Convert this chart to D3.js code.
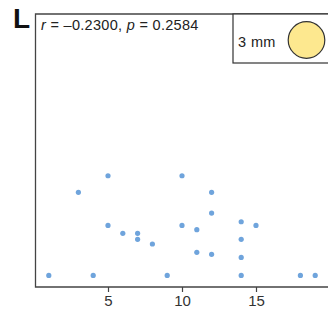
<!DOCTYPE html>
<html><head><meta charset="utf-8">
<script src="https://cdn.jsdelivr.net/npm/d3@7"></script>
<style>body{margin:0;background:#fff}svg{display:block;font-family:"Liberation Sans",Arial,sans-serif}</style>
</head><body>
<svg id="c" width="328" height="331"></svg>
<script>
const xValues = [1, 4, 9, 14, 18, 19, 3, 5, 10, 12, 12, 14, 15, 5, 10, 11, 6, 7, 7, 14, 8, 11, 12, 14];
const yValues = [0, 0, 0, 0, 0, 0, 5.0, 6.0, 6.0, 5.0, 3.75, 3.23, 3.01, 3.01, 3.01, 2.75, 2.53, 2.53, 2.17, 2.17, 1.89, 1.39, 1.27, 1.08];
const xTicks = [5, 10, 15];
const panelLabel = "L";
const legendLabel = "3 mm";

const svg = d3.select("#c");
const m = {l: 35.5, t: 14, b: 287};
const x = d3.scaleLinear().domain([0, 20]).range([34, 330]);
const y = d3.scaleLinear().domain([-0.7, 15.74]).range([m.b, m.t]);

// frame
svg.append("path").attr("d", `M340,${m.t}H${m.l}V${m.b}H340`)
  .attr("fill", "none").attr("stroke", "#444").attr("stroke-width", 1.3);

const ax = svg.append("g").attr("transform", `translate(0,${m.b})`)
  .call(d3.axisBottom(x).tickValues(xTicks).tickSize(5).tickPadding(3));
ax.select(".domain").remove();
ax.selectAll("line").attr("stroke", "#444").attr("stroke-width", 1.2);
ax.selectAll("text").attr("fill", "#333").style("font-size", "15px");

svg.append("g").selectAll("circle").data(xValues.map((v, i) => [v, yValues[i]]))
  .join("circle").attr("cx", d => x(d[0])).attr("cy", d => y(d[1])).attr("r", 2.6)
  .attr("fill", "#6fa4dc");

svg.append("text").attr("x", 13).attr("y", 28.3).text(panelLabel)
  .style("font-size", "28px").style("font-weight", "bold").attr("fill", "#111");

const t = svg.append("text").attr("x", 41).attr("y", 29.5).style("font-size", "14.5px")
  .style("letter-spacing", "0.3px").attr("fill", "#222");
t.append("tspan").text("r").style("font-style", "italic");
t.append("tspan").text(" = \u20130.2300, ");
t.append("tspan").text("p").style("font-style", "italic");
t.append("tspan").text(" = 0.2584");

// legend
svg.append("rect").attr("x", 233).attr("y", m.t).attr("width", 120).attr("height", 49)
  .attr("fill", "#fff").attr("stroke", "#333").attr("stroke-width", 1.2);
svg.append("text").attr("x", 238).attr("y", 46.7).text(legendLabel).style("font-size", "14.5px")
  .style("letter-spacing", "0.4px").attr("fill", "#222");
svg.append("circle").attr("cx", 306.5).attr("cy", 40).attr("r", 18.3)
  .attr("fill", "#fde88f").attr("stroke", "#333").attr("stroke-width", 1.2);
</script>
</body></html>
